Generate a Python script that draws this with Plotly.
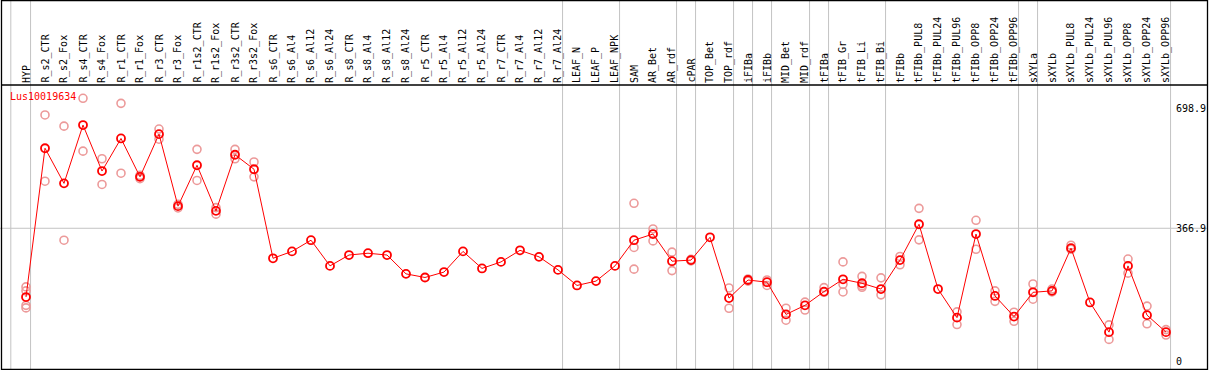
import plotly.graph_objects as go

gene = "Lus10019634"

categories = [
    "HYP", "R_s2_CTR", "R_s2_Fox", "R_s4_CTR", "R_s4_Fox", "R_r1_CTR", "R_r1_Fox",
    "R_r3_CTR", "R_r3_Fox", "R_r1s2_CTR", "R_r1s2_Fox", "R_r3s2_CTR", "R_r3s2_Fox",
    "R_s6_CTR", "R_s6_Al4", "R_s6_Al12", "R_s6_Al24", "R_s8_CTR", "R_s8_Al4",
    "R_s8_Al12", "R_s8_Al24", "R_r5_CTR", "R_r5_Al4", "R_r5_Al12", "R_r5_Al24",
    "R_r7_CTR", "R_r7_Al4", "R_r7_Al12", "R_r7_Al24", "LEAF_N", "LEAF_P", "LEAF_NPK",
    "SAM", "AR_Bet", "AR_rdf", "cPAR", "TOP_Bet", "TOP_rdf", "iFIBa", "iFIBb",
    "MID_Bet", "MID_rdf", "tFIBa", "tFIB_Gr", "tFIB_Li", "tFIB_Bi", "tFIBb",
    "tFIBb_PUL8", "tFIBb_PUL24", "tFIBb_PUL96", "tFIBb_OPP8", "tFIBb_OPP24",
    "tFIBb_OPP96", "sXYLa", "sXYLb", "sXYLb_PUL8", "sXYLb_PUL24", "sXYLb_PUL96",
    "sXYLb_OPP8", "sXYLb_OPP24", "sXYLb_OPP96",
]

means = [
    177, 588, 491, 652, 525, 615, 509, 627, 428, 541, 415, 570, 530,
    284, 303, 334, 263, 293, 298, 293, 241, 231, 246, 303, 256, 274, 306, 288, 252,
    209, 221, 263,
    334, 351, 276, 279, 342, 174, 224, 218, 129, 154, 192, 226, 215, 199, 279,
    378, 199, 120, 351, 180, 123,
    190, 194, 312, 162, 80, 263, 127, 80,
]

replicates = [
    [205, 194, 154, 147], [680, 497], [649, 334], [726, 580], [559, 488], [712, 519],
    [513, 504], [641, 613], [433, 423], [585, 499], [424, 406], [585, 559], [550, 509],
    [], [], [], [], [], [], [], [], [], [], [], [], [], [], [], [], [], [], [],
    [436, 314, 254], [365, 332], [301, 250], [281, 277], [], [202, 146], [227, 221],
    [224, 209], [146, 113], [163, 141], [203, 190], [274, 212, 191], [234, 208, 204],
    [230, 183], [289, 266],
    [422, 335], [], [136, 101], [389, 309], [194, 165], [135, 110],
    [213, 171], [199, 191], [320, 309], [], [100, 60], [282, 243], [152, 103], [87, 72],
]

separators_after = [
    "HYP", "R_r7_Al24", "LEAF_NPK", "AR_rdf", "cPAR", "TOP_rdf", "iFIBa", "iFIBb",
    "MID_rdf", "tFIBa", "tFIB_Bi", "tFIBb_OPP96", "sXYLa", "sXYLb_OPP96",
]

y_ticks = [0, 366.9, 698.9]
y_tick_text = ["0", "366.9", "698.9"]

W, H = 1209, 370
FONT = "DejaVu Sans Mono"


def px(x):
    return x / W


def py(y):
    return 1 - y / H


rep_x, rep_y = [], []
for cat, reps in zip(categories, replicates):
    for v in reps:
        rep_x.append(cat)
        rep_y.append(v)

fig = go.Figure()
fig.add_trace(go.Scatter(
    x=rep_x, y=rep_y, mode="markers",
    marker=dict(symbol="circle-open", size=8, color="#ec9a9a", line=dict(width=1.6)),
    hoverinfo="skip", showlegend=False,
))
fig.add_trace(go.Scatter(
    x=categories, y=means, mode="lines+markers",
    line=dict(color="#ff0000", width=1),
    marker=dict(symbol="circle-open", size=8, color="#ff0000", line=dict(width=1.8)),
    showlegend=False,
))

shapes = []
idx = {c: i for i, c in enumerate(categories)}
sep_positions = [-0.8] + [idx[c] + 0.24 for c in separators_after]
for s in sep_positions:
    shapes.append(dict(type="line", xref="x", yref="paper", x0=s, x1=s,
                       y0=py(369), y1=1, line=dict(color="#c4c4c4", width=1), layer="below"))
shapes.append(dict(type="line", xref="paper", yref="y", x0=0, x1=px(1207),
                   y0=y_ticks[1], y1=y_ticks[1], line=dict(color="#c4c4c4", width=1), layer="below"))
shapes.append(dict(type="line", xref="paper", yref="paper", x0=px(1), x1=px(1207),
                   y0=py(85), y1=py(85), line=dict(color="black", width=1.3)))
shapes.append(dict(type="rect", xref="paper", yref="paper", x0=px(1.5), x1=px(1207.5),
                   y0=py(369.5), y1=py(0.5), line=dict(color="black", width=1.3)))

annotations = []
for c in categories:
    annotations.append(dict(x=c, xref="x", y=py(84), yref="paper", text=c,
                            textangle=-90, showarrow=False, xanchor="center", yanchor="bottom",
                            font=dict(family=FONT, size=10, color="black"), borderpad=0))
for v, t in zip(y_ticks, y_tick_text):
    annotations.append(dict(x=px(1175), xref="paper", y=v, yref="y", text=t,
                            showarrow=False, xanchor="left", yanchor="middle",
                            font=dict(family=FONT, size=10, color="black"), borderpad=0))
annotations.append(dict(x=px(9), xref="paper", y=py(96.5), yref="paper", text=gene,
                        showarrow=False, xanchor="left", yanchor="middle",
                        font=dict(family=FONT, size=10, color="#ff0000"), borderpad=0))

y0_px, scale = 361.1, 0.362
fig.update_layout(
    width=W, height=H, margin=dict(l=0, r=0, t=0, b=0),
    paper_bgcolor="white", plot_bgcolor="white",
    xaxis=dict(type="category", categoryorder="array", categoryarray=categories,
               range=[-26 / 19, (W - 26) / 19], visible=False,
               domain=[0, 1], fixedrange=True),
    yaxis=dict(range=[(y0_px - H) / scale, y0_px / scale], visible=False,
               domain=[0, 1], fixedrange=True),
    shapes=shapes, annotations=annotations,
)

fig.write_html("out.html", config={"displayModeBar": False},
               post_script="document.body.style.margin='0px';document.body.style.overflow='hidden';")
